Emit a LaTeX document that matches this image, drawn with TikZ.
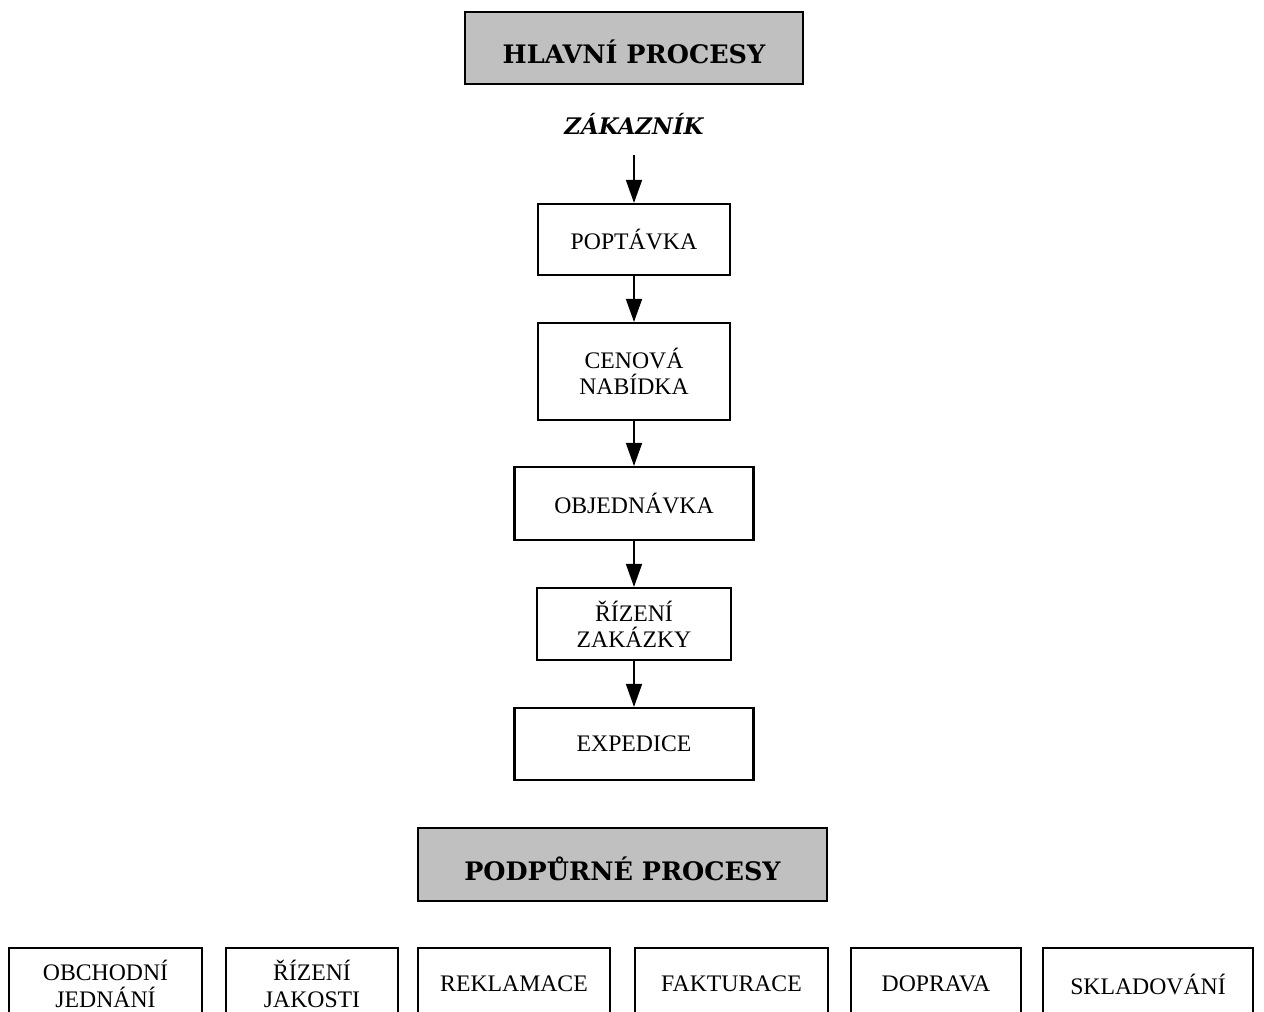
\documentclass[tikz,border=0pt]{standalone}
\usepackage{fontspec}
\setmainfont{Liberation Serif}
\newfontfamily\headfont{DejaVu Serif}
\usepackage{tikz}
\usetikzlibrary{arrows.meta}

\definecolor{headgray}{RGB}{192,192,192}

\tikzset{
  procbox/.style={draw, line width=1.2pt, align=center, inner sep=0pt,
    font=\fontsize{13.5}{15}\selectfont},
  headbox/.style={draw, line width=1.4pt, fill=headgray, inner sep=0pt,
    text height=0.64cm, text depth=0cm,
    font=\headfont\bfseries\fontsize{14.5}{17}\selectfont},
  arr/.style={line width=0.9pt, -{Triangle[length=4.6mm,width=3.2mm]}}
}

\begin{document}
\begin{tikzpicture}

    \useasboundingbox (0,0) rectangle (25.28,-20.24);

    % hlavni procesy
    \node [headbox, minimum width=6.76cm, minimum height=1.44cm] (hlavni) at (12.68,-0.96) {HLAVNÍ PROCESY};
    \node [font=\headfont\bfseries\itshape\fontsize{13}{15}\selectfont] (zakaznik) at (12.68,-2.48) {ZÁKAZNÍK};
    \coordinate (zk) at (12.68,-3.10);

    \node [procbox, minimum width=3.84cm, minimum height=1.42cm] (poptavka) at (12.68,-4.79) {POPTÁVKA};
    \node [procbox, minimum width=3.84cm, minimum height=1.94cm] (cenova) at (12.68,-7.43) {CENOVÁ\\NABÍDKA};
    \node [procbox, minimum width=4.78cm, minimum height=1.46cm] (objednavka) at (12.68,-10.07) {OBJEDNÁVKA};
    \node [procbox, minimum width=3.88cm, minimum height=1.44cm] (rizeni) at (12.68,-12.48) {ŘÍZENÍ\\ZAKÁZKY};
    \node [procbox, minimum width=4.78cm, minimum height=1.44cm] (expedice) at (12.68,-14.88) {EXPEDICE};

    \draw [arr] (zk) -- (poptavka);
    \draw [arr] (poptavka) -- (cenova);
    \draw [arr] (cenova) -- (objednavka);
    \draw [arr] (objednavka) -- (rizeni);
    \draw [arr] (rizeni) -- (expedice);

    % podpurne procesy
    \node [headbox, minimum width=8.18cm, minimum height=1.46cm] (podpurne) at (12.45,-17.29) {PODPŮRNÉ PROCESY};

    \node [procbox, minimum width=3.86cm, minimum height=1.44cm] (obchod) at (2.11,-19.68) {OBCHODNÍ\\JEDNÁNÍ};
    \node [procbox, minimum width=3.44cm, minimum height=1.44cm] (jakost) at (6.24,-19.68) {ŘÍZENÍ\\JAKOSTI};
    \node [procbox, minimum width=3.84cm, minimum height=1.44cm] (reklamace) at (10.28,-19.68) {REKLAMACE};
    \node [procbox, minimum width=3.86cm, minimum height=1.44cm] (fakturace) at (14.63,-19.68) {FAKTURACE};
    \node [procbox, minimum width=3.40cm, minimum height=1.44cm] (doprava) at (18.72,-19.68) {DOPRAVA};
    \node [procbox, minimum width=4.20cm, minimum height=1.44cm] (sklad) at (22.96,-19.68) {SKLADOVÁNÍ};

\end{tikzpicture}
\end{document}
